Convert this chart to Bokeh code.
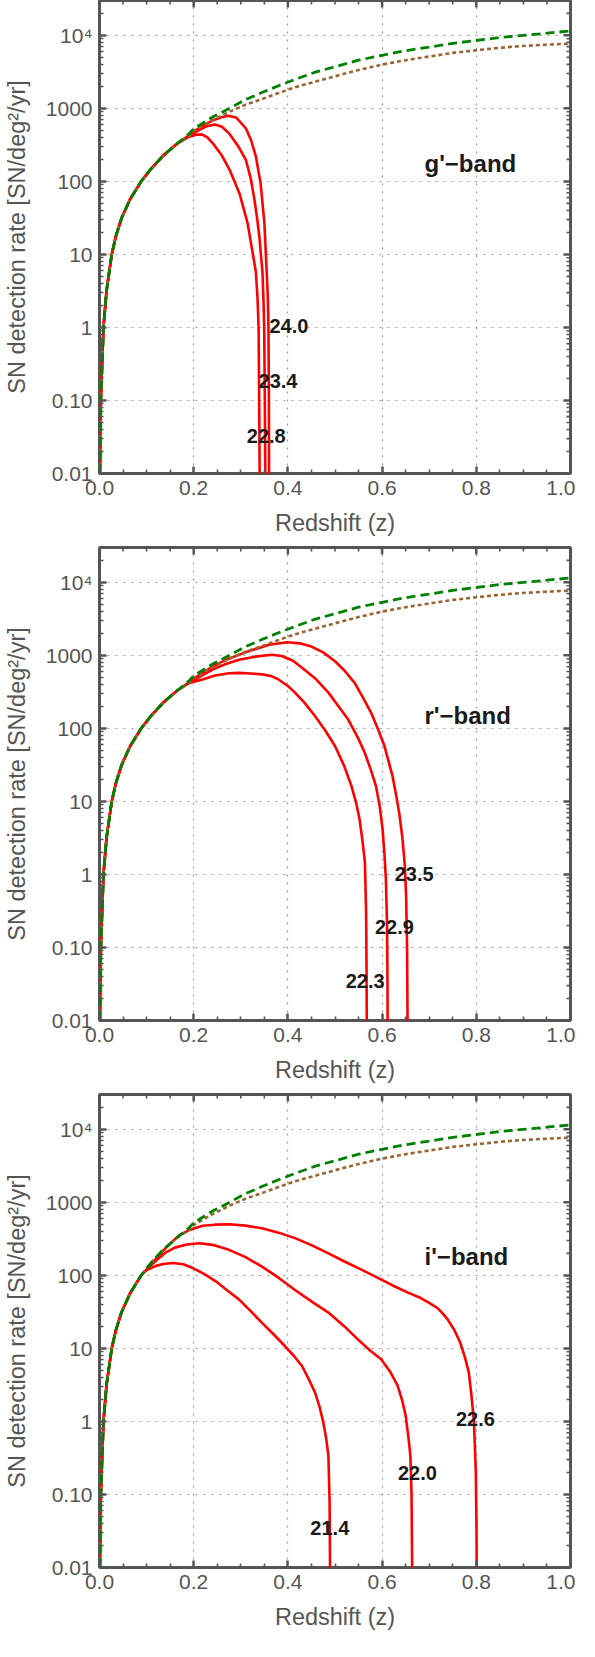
import math
from bokeh.plotting import figure
from bokeh.layouts import column
from bokeh.models import FixedTicker, CustomJSTickFormatter, Range1d
from bokeh.core.properties import value
from bokeh.embed import file_html
from bokeh.resources import INLINE

# ---------------- data ----------------
x_ticks = [0.0, 0.2, 0.4, 0.6, 0.8, 1.0]
x_minor = [0.05, 0.1, 0.15, 0.25, 0.3, 0.35, 0.45, 0.5, 0.55, 0.65, 0.7, 0.75, 0.85, 0.9, 0.95]
y_ticks = [0.01, 0.1, 1, 10, 100, 1000, 10000]
y_tick_labels = ["0.01", "0.10", "1", "10", "100", "1000", "10\u2074"]
y_minor = [m * d for d in [0.01, 0.1, 1, 10, 100, 1000] for m in range(2, 10)] + [20000]

# common low-redshift part of every curve
z_low = [0.0009, 0.0028, 0.0084, 0.015, 0.026, 0.035, 0.047, 0.065, 0.0885]
rate_low = [0.01, 0.1, 1.0, 3.2, 10, 18, 31.6, 57, 100]

# total rate (green dashed)
z_total = [0.11, 0.135, 0.165, 0.19, 0.2, 0.24, 0.276, 0.31, 0.346, 0.38, 0.4155, 0.46, 0.5,
           0.55, 0.6, 0.65, 0.7, 0.75, 0.8, 0.85, 0.9, 0.95, 1.0]
rate_total = [150, 224, 330, 447, 525, 760, 1000, 1320, 1660, 2040, 2500, 3160, 3720,
              4570, 5330, 6170, 6900, 7760, 8500, 9330, 10000, 10700, 11500]

# second rate (brown dotted)
z_brown = [0.11, 0.135, 0.165, 0.19, 0.2, 0.24, 0.276, 0.31, 0.346, 0.38, 0.4155, 0.46, 0.5,
           0.55, 0.6, 0.65, 0.7, 0.75, 0.8, 0.85, 0.9, 0.95, 1.0]
rate_brown = [150, 224, 330, 420, 490, 690, 900, 1120, 1350, 1620, 1950, 2340, 2750,
              3350, 3980, 4570, 5130, 5750, 6240, 6760, 7160, 7450, 7700]

# g'-band limiting magnitudes 22.8, 23.4, 24.0
g228_z = [0.11, 0.135, 0.165, 0.19, 0.205, 0.217, 0.229, 0.241, 0.259, 0.276, 0.297, 0.314,
          0.325, 0.332, 0.3355, 0.3378, 0.339, 0.34, 0.3405]
g228_r = [150, 224, 330, 410, 435, 440, 400, 330, 230, 145, 69, 27.5,
          10.7, 5.75, 2.5, 1.0, 0.1, 0.01, 0.001]
g234_z = [0.11, 0.135, 0.165, 0.19, 0.215, 0.23, 0.245, 0.26, 0.276, 0.295, 0.311, 0.321,
          0.329, 0.335, 0.34, 0.343, 0.346, 0.348, 0.3497, 0.351, 0.352, 0.3525]
g234_r = [150, 224, 330, 420, 520, 575, 600, 560, 447, 300, 195, 110,
          56, 30, 16, 9.5, 5.75, 2.5, 1.0, 0.1, 0.01, 0.001]
g240_z = [0.11, 0.135, 0.165, 0.19, 0.215, 0.24, 0.257, 0.273, 0.29, 0.311, 0.322, 0.332,
          0.342, 0.35, 0.355, 0.3575, 0.3587, 0.3597, 0.36, 0.3605]
g240_r = [150, 224, 330, 425, 560, 680, 750, 790, 750, 530, 363, 219,
          95, 27.5, 5.75, 2.5, 1.0, 0.1, 0.01, 0.001]

# r'-band limiting magnitudes 22.3, 22.9, 23.5
r223_z = [0.11, 0.135, 0.165, 0.19, 0.219, 0.245, 0.275, 0.296, 0.32, 0.345, 0.365, 0.38, 0.4,
          0.415, 0.435, 0.4575, 0.48, 0.5, 0.52, 0.535, 0.545, 0.552, 0.558, 0.5635, 0.566,
          0.567, 0.5675, 0.568]
r223_r = [150, 224, 330, 420, 468, 530, 570, 575, 565, 550, 520, 468, 380,
          309, 225, 148, 92, 57.5, 30, 16.2, 9.5, 5.75, 3.0, 1.48, 0.31,
          0.05, 0.008, 0.001]
r229_z = [0.11, 0.135, 0.165, 0.19, 0.215, 0.24, 0.27, 0.296, 0.33, 0.366, 0.387, 0.41, 0.43,
          0.46, 0.486, 0.51, 0.528, 0.548, 0.563, 0.577, 0.587, 0.595, 0.601, 0.605, 0.608,
          0.6105, 0.6115, 0.612]
r229_r = [150, 224, 330, 420, 520, 640, 770, 870, 960, 1020, 980, 850, 676,
          470, 309, 190, 132, 76, 46.8, 26, 16.2, 8.5, 4.17, 1.9, 0.87,
          0.2, 0.03, 0.001]
r235_z = [0.11, 0.135, 0.165, 0.19, 0.215, 0.24, 0.27, 0.31, 0.36, 0.399, 0.425, 0.45, 0.475,
          0.5, 0.52, 0.542, 0.56, 0.577, 0.592, 0.605, 0.615, 0.622, 0.63, 0.637, 0.643,
          0.648, 0.651, 0.653, 0.654, 0.6545]
r235_r = [150, 224, 330, 425, 560, 700, 880, 1100, 1400, 1510, 1460, 1320, 1100,
          830, 620, 417, 260, 162, 95, 57.5, 33, 22.4, 12, 6.5, 3.2,
          1.4, 0.5, 0.1, 0.01, 0.001]

# i'-band limiting magnitudes 21.4, 22.0, 22.6
i214_z = [0.1, 0.12, 0.135, 0.156, 0.178, 0.198, 0.222, 0.247, 0.27, 0.296, 0.32, 0.345, 0.37,
          0.394, 0.412, 0.43, 0.445, 0.4575, 0.467, 0.475, 0.481, 0.486, 0.4885, 0.4895, 0.49]
i214_r = [118, 135, 143, 148, 142, 126, 105, 83, 63, 47, 33, 22.4, 15.5,
          10.7, 8.0, 5.75, 3.7, 2.5, 1.6, 0.98, 0.6, 0.34, 0.08, 0.01, 0.001]
i220_z = [0.1, 0.12, 0.14, 0.16, 0.185, 0.212, 0.24, 0.275, 0.31, 0.345, 0.38, 0.415, 0.45,
          0.486, 0.52, 0.549, 0.575, 0.598, 0.617, 0.633, 0.643, 0.65, 0.656, 0.66, 0.6625,
          0.6638, 0.6645]
i220_r = [120, 160, 205, 240, 265, 275, 262, 224, 178, 132, 93, 63, 44,
          31, 20, 13.2, 9.3, 7.1, 4.8, 3.1, 1.9, 1.2, 0.6, 0.34, 0.1,
          0.01, 0.001]
i226_z = [0.1, 0.12, 0.14, 0.17, 0.195, 0.219, 0.245, 0.275, 0.31, 0.345, 0.38, 0.415, 0.45,
          0.486, 0.52, 0.556, 0.59, 0.626, 0.655, 0.682, 0.7, 0.717, 0.729, 0.739, 0.753,
          0.766, 0.776, 0.784, 0.789, 0.795, 0.799, 0.8005, 0.801, 0.8012]
i226_r = [120, 170, 235, 359, 430, 479, 495, 501, 480, 442, 385, 324, 260,
          200, 155, 120, 93, 71, 58, 49, 42, 36, 30, 25, 18,
          12, 7.5, 4.7, 2.5, 1.0, 0.2, 0.03, 0.005, 0.001]

g_label_text = ["24.0", "23.4", "22.8"]
g_label_z = [0.402, 0.379, 0.354]
g_label_v = [1.06, 0.186, 0.033]
r_label_text = ["23.5", "22.9", "22.3"]
r_label_z = [0.668, 0.626, 0.564]
r_label_v = [1.0, 0.19, 0.035]
i_label_text = ["22.6", "22.0", "21.4"]
i_label_z = [0.798, 0.675, 0.489]
i_label_v = [1.08, 0.195, 0.035]

band_names = ["g'\u2212band", "r'\u2212band", "i'\u2212band"]
band_z = [0.69, 0.69, 0.69]
band_v = [178, 150, 180]

# ---------------- styling ----------------
FONT = "Liberation Sans"
FRAME = "#555555"
TICKLAB = "#555555"
X_LO, X_HI = 0.0, 1.0
Y_LO, Y_HI = 0.01, 30000
FRAME_W, FRAME_H = 475, 473

y_label_js = "const labs = %s; const e = Math.round(Math.log10(tick)) + 2; return labs[e];" % (
    "[" + ",".join('"%s"' % s for s in y_tick_labels) + "]")


def style_axis(ax):
    ax.axis_line_color = None
    ax.major_tick_in = 7
    ax.major_tick_out = 0
    ax.minor_tick_in = 4
    ax.minor_tick_out = 0
    ax.major_tick_line_color = FRAME
    ax.major_tick_line_width = 2.5
    ax.minor_tick_line_color = FRAME
    ax.minor_tick_line_width = 1.6
    ax.major_label_text_font = FONT
    ax.major_label_text_font_size = "21px"
    ax.major_label_text_color = TICKLAB
    ax.axis_label_text_font = FONT
    ax.axis_label_text_font_size = "23.5px"
    ax.axis_label_text_font_style = "normal"
    ax.axis_label_text_color = TICKLAB


def make_panel(curves, labels, band_idx, top_border, bottom_border):
    p = figure(width=95 + FRAME_W + 5, height=top_border + FRAME_H + bottom_border,
               x_range=Range1d(X_LO, X_HI), y_range=Range1d(Y_LO, Y_HI),
               y_axis_type="log", output_backend="svg", toolbar_location=None,
               min_border_left=95, min_border_right=5,
               min_border_top=top_border, min_border_bottom=bottom_border)
    p.outline_line_color = FRAME
    p.outline_line_width = 3
    p.background_fill_color = "white"
    p.border_fill_color = "white"

    bx = p.below[0]
    bx.ticker = FixedTicker(ticks=x_ticks, minor_ticks=x_minor)
    bx.formatter = CustomJSTickFormatter(code="return tick.toFixed(1);")
    bx.axis_label = "Redshift (z)"
    style_axis(bx)
    bx.major_label_standoff = 7
    bx.axis_label_standoff = 12

    ly = p.left[0]
    ly.ticker = FixedTicker(ticks=y_ticks, minor_ticks=y_minor)
    ly.formatter = CustomJSTickFormatter(code=y_label_js)
    ly.axis_label = "SN detection rate [SN/deg\u00b2/yr]"
    style_axis(ly)
    ly.major_label_standoff = 7
    ly.axis_label_standoff = 13

    # inward ticks along the top and right frame edges
    p.scatter(x_ticks, [Y_HI] * len(x_ticks), marker="dash", size=14, angle=math.pi / 2,
              line_color=FRAME, line_width=2.5)
    p.scatter(x_minor, [Y_HI] * len(x_minor), marker="dash", size=8, angle=math.pi / 2,
              line_color=FRAME, line_width=1.6)
    p.scatter([X_HI] * len(y_ticks), y_ticks, marker="dash", size=14,
              line_color=FRAME, line_width=2.5)
    p.scatter([X_HI] * len(y_minor), y_minor, marker="dash", size=8,
              line_color=FRAME, line_width=1.6)

    p.xgrid.ticker = FixedTicker(ticks=x_ticks)
    p.ygrid.ticker = FixedTicker(ticks=y_ticks)
    p.grid.grid_line_color = "#9a9a9a"
    p.grid.grid_line_dash = "2 6"
    p.grid.grid_line_width = 1.2

    for cz, cr in curves:
        p.line(z_low + cz, rate_low + cr, line_color="#ff0000", line_width=2.6)
    p.line(z_low + z_brown, rate_low + rate_brown, line_color="#996633", line_width=2.6,
           line_dash="4 3")
    p.line(z_low + z_total, rate_low + rate_total, line_color="#008000", line_width=2.8,
           line_dash="9 5")

    txt, lz, lv = labels
    p.text(x=lz, y=lv, text=txt, text_font=value(FONT), text_font_style="bold",
           text_font_size="20px", text_color="#1a1a1a", text_align="center",
           text_baseline="middle")
    p.text(x=[band_z[band_idx]], y=[band_v[band_idx]], text=[band_names[band_idx]],
           text_font=value(FONT), text_font_style="bold", text_font_size="24px",
           text_color="#1a1a1a", text_align="left", text_baseline="middle")
    return p


p1 = make_panel([(g228_z, g228_r), (g234_z, g234_r), (g240_z, g240_r)],
                (g_label_text, g_label_z, g_label_v), 0, 0, 72)
p2 = make_panel([(r223_z, r223_r), (r229_z, r229_r), (r235_z, r235_r)],
                (r_label_text, r_label_z, r_label_v), 1, 2, 72)
p3 = make_panel([(i214_z, i214_r), (i220_z, i220_r), (i226_z, i226_r)],
                (i_label_text, i_label_z, i_label_v), 2, 2, 72)

layout = column(p1, p2, p3)
open("out.html", "w").write(file_html(layout, INLINE))
